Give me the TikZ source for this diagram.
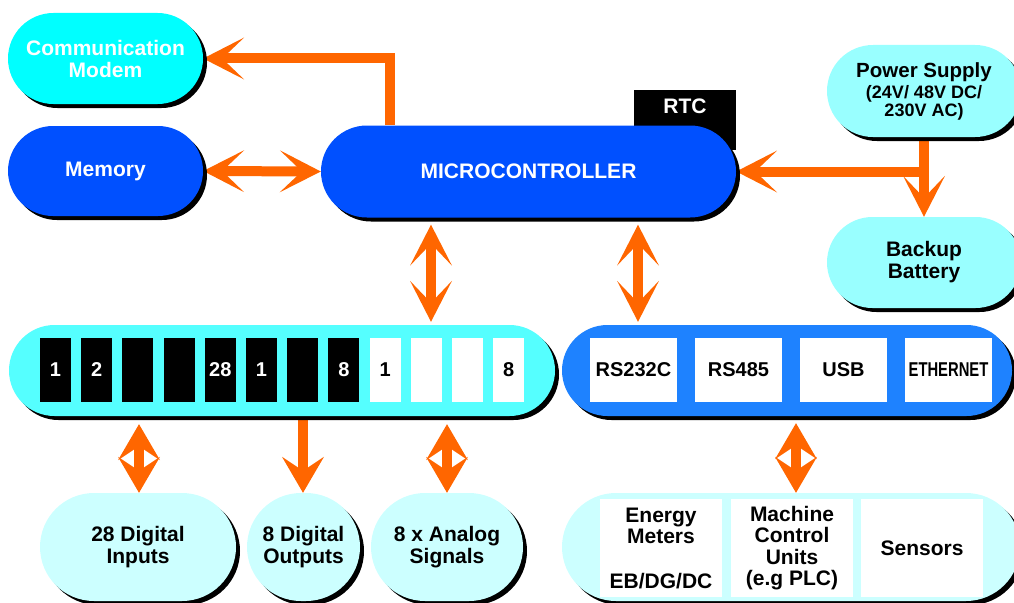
\documentclass[tikz,border=0pt]{standalone}
\usepackage{fontspec}
\setmainfont{Liberation Sans}
\usetikzlibrary{arrows.meta,shadows,backgrounds}
\definecolor{orng}{HTML}{FF6600}
\definecolor{cyanA}{HTML}{00FFFF}
\definecolor{blueA}{HTML}{0050FF}
\definecolor{paleA}{HTML}{99FFFF}
\definecolor{barA}{HTML}{55FFFF}
\definecolor{barB}{HTML}{1E82FF}
\definecolor{paleB}{HTML}{CCFFFF}
\newcommand\fsz[2]{\fontsize{#1}{#2}\selectfont}
\tikzset{
  bighead/.tip={Stealth[length=41pt,width=42pt,inset=22pt,line width=0pt]},
  smallhead/.tip={Stealth[length=36pt,width=42pt,inset=14pt,line width=0pt]},
  stad/.style={rectangle, inner sep=0pt, align=center, font=\bfseries\fsz{21}{22},
    drop shadow={shadow xshift=4pt, shadow yshift=-4pt, opacity=1, fill=black}},
  conn/.style={draw=orng, line width=10pt},
  dbox/.style={rectangle, inner sep=0pt, minimum width=31pt, minimum height=64pt, font=\bfseries\fsz{20}{22}},
  cbox/.style={rectangle, fill=white, inner sep=0pt, minimum width=87pt, minimum height=64pt, font=\bfseries\fsz{20}{22}},
  pbox/.style={rectangle, fill=white, inner sep=0pt, minimum width=122pt, minimum height=98pt, align=center, font=\bfseries\fsz{21}{21.5}},
}
\begin{document}
\begin{tikzpicture}[x=1pt,y=-1pt]
\useasboundingbox (0,0) rectangle (1014,602);
\clip (0,0) rectangle (1014,602);
% RTC block behind microcontroller
\node[fill=black, minimum width=102pt, minimum height=60pt, inner sep=0pt] (rtcbox) at (685,120) {};
\node[text=white, font=\bfseries\fsz{21}{22}, inner sep=0pt] (rtc) at (685,106) {RTC};
% main nodes
\node[stad, fill=cyanA, text=white, minimum width=195pt, minimum height=91pt, rounded corners=45.5pt] (modem) at (105.5,58.5) {Communication\\Modem};
\node[stad, fill=blueA, text=white, minimum width=195pt, minimum height=90pt, rounded corners=45pt] (memory) at (105.5,171) {Memory};
\node[stad, fill=blueA, text=white, minimum width=415pt, minimum height=92pt, rounded corners=46pt] (mc) at (528.5,171.5) {MICROCONTROLLER};
\node[stad, fill=paleA, minimum width=194pt, minimum height=92pt, rounded corners=46pt] (ps) at (924,91) {{\fsz{20.5}{21}Power Supply}\\[-1pt]{\fsz{18}{18}(24V/ 48V DC/}\\[-4pt]{\fsz{18}{18}230V AC)}};
\node[stad, fill=paleA, minimum width=194pt, minimum height=91pt, rounded corners=45.5pt] (bat) at (924,262.5) {Backup\\Battery};
\node[stad, fill=barA, minimum width=546pt, minimum height=91pt, rounded corners=45.5pt] (dig) at (282,370.5) {};
\node[stad, fill=barB, minimum width=450pt, minimum height=91pt, rounded corners=45.5pt] (com) at (787,370.5) {};
\node[stad, fill=paleB, minimum width=196pt, minimum height=108pt, rounded corners=54pt] (di) at (138,547) {28 Digital\\Inputs};
\node[stad, fill=paleB, minimum width=113pt, minimum height=108pt, rounded corners=54pt] (do) at (303.5,547) {8 Digital\\Outputs};
\node[stad, fill=paleB, minimum width=152pt, minimum height=108pt, rounded corners=54pt] (as) at (447,547) {8 x Analog\\Signals};
\node[stad, fill=paleB, minimum width=458pt, minimum height=108pt, rounded corners=54pt] (fld) at (791,547) {};
% digital channel boxes
\foreach \i/\t in {0/1,1/2,2/{},3/{},4/28,5/1,6/{},7/8}
  \node[dbox, fill=black, text=white] (db\i) at (55.5+41.2*\i,370) {\t};
\foreach \i/\t in {8/1,9/{},10/{},11/8}
  \node[dbox, fill=white, text=black] (db\i) at (55.5+41.2*\i,370) {\t};
% communication boxes
\node[cbox] (rs232) at (633.5,370) {RS232C};
\node[cbox] (rs485) at (738.5,370) {RS485};
\node[cbox] (usb) at (843.5,370) {USB};
\node[cbox] (eth) at (948.5,370) {\scalebox{0.74}[1]{ETHERNET}};
% field device boxes
\node[pbox] (em) at (661,548) {Energy\\Meters\\[23pt]EB/DG/DC};
\node[pbox] (mcu) at (792,548) {Machine\\Control\\Units\\(e.g PLC)};
\node[pbox] (sen) at (922,548) {Sensors};
% connector columns
\coordinate (xm) at (390,0);
\coordinate (xd) at (431,0);
\coordinate (xc) at (638,0);
\coordinate (x1) at (139,0);
\coordinate (x2) at (303,0);
\coordinate (x3) at (447,0);
\coordinate (x4) at (796,0);
\begin{pgfonlayer}{background}
\draw[conn, -bighead] (mc.north -| xm) |- (modem.east);
\draw[conn, bighead-bighead] (memory.east) -- (mc.west);
\draw[conn, -bighead] (ps.south) -- (bat.north);
\draw[conn, -bighead] (ps.south |- mc.east) -- (mc.east);
\draw[conn, bighead-bighead, shorten <=7pt, shorten >=3pt] (mc.south -| xd) -- (dig.north -| xd);
\draw[conn, bighead-bighead, shorten <=7pt, shorten >=3pt] (mc.south -| xc) -- (com.north -| xc);
\draw[conn, smallhead-smallhead, shorten <=8pt] (dig.south -| x1) -- (di.north -| x1);
\draw[conn, -smallhead] (dig.south -| x2) -- (do.north -| x2);
\draw[conn, smallhead-smallhead, shorten <=8pt] (dig.south -| x3) -- (as.north -| x3);
\draw[conn, smallhead-smallhead, shorten <=7pt] (com.south -| x4) -- (fld.north -| x4);
\end{pgfonlayer}
\end{tikzpicture}
\end{document}
